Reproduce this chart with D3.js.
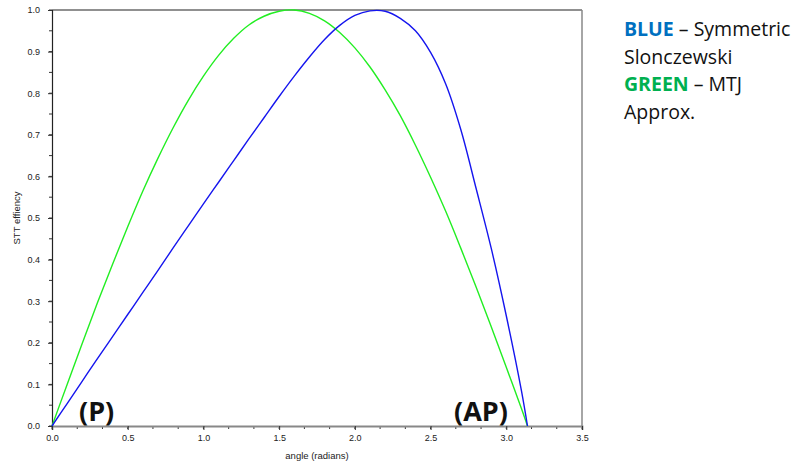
<!DOCTYPE html>
<html>
<head>
<meta charset="utf-8">
<script src="https://cdn.jsdelivr.net/npm/d3@7"></script>
<style>
  body { margin: 0; background: #fff; }
  svg { display: block; }
</style>
</head>
<body>
<div id="chart"></div>
<script>
// angle samples (radians)
var angles = [0, 0.1, 0.2, 0.3, 0.4, 0.5, 0.6, 0.7, 0.8, 0.9, 1.0, 1.1, 1.2, 1.3, 1.4, 1.5,
  1.6, 1.7, 1.8, 1.9, 2.0, 2.1, 2.2, 2.3, 2.4, 2.5, 2.6, 2.7, 2.8, 2.9, 3.0, 3.1, 3.14];

// blue: symmetric Slonczewski
var blueValues = [0, 0.054, 0.108, 0.162, 0.215, 0.268, 0.321, 0.374, 0.428, 0.481, 0.534,
  0.586, 0.638, 0.690, 0.741, 0.792, 0.841, 0.887, 0.929, 0.963, 0.987, 0.998, 0.997,
  0.980, 0.950, 0.898, 0.822, 0.712, 0.572, 0.428, 0.265, 0.085, 0];

// green: MTJ approx.
var greenValues = [0, 0.100, 0.199, 0.296, 0.389, 0.479, 0.565, 0.644, 0.717, 0.783, 0.841,
  0.891, 0.932, 0.964, 0.985, 0.997, 1.000, 0.992, 0.974, 0.946, 0.909, 0.863, 0.808,
  0.746, 0.675, 0.598, 0.516, 0.427, 0.335, 0.239, 0.141, 0.042, 0];

var xTicks = [0, 0.5, 1.0, 1.5, 2.0, 2.5, 3.0, 3.5];
var yTicks = [0, 0.1, 0.2, 0.3, 0.4, 0.5, 0.6, 0.7, 0.8, 0.9, 1.0];

var width = 805, height = 466;
var margin = { left: 52, top: 10, right: 223, bottom: 40 };

var svg = d3.select("#chart").append("svg")
  .attr("width", width)
  .attr("height", height);

var x = d3.scaleLinear().domain([0, 3.5]).range([margin.left, width - margin.right]);
var y = d3.scaleLinear().domain([0, 1]).range([height - margin.bottom, margin.top]);

// frame
svg.append("line").attr("x1", x(0)).attr("x2", x(3.5)).attr("y1", y(1)).attr("y2", y(1))
  .attr("stroke", "#222").attr("stroke-width", 1.2);
svg.append("line").attr("x1", x(3.5)).attr("x2", x(3.5)).attr("y1", y(1)).attr("y2", y(0))
  .attr("stroke", "#888").attr("stroke-width", 1.5);

// minor ticks
var xMinor = d3.range(0, 3.5 + 1e-9, 0.5 / 3);
var yMinor = d3.range(0, 1 + 1e-9, 0.05);

var xAxis = svg.append("g")
  .attr("transform", "translate(0," + y(0) + ")");
xAxis.selectAll(".minor").data(xMinor).enter().append("line")
  .attr("x1", function (d) { return x(d); })
  .attr("x2", function (d) { return x(d); })
  .attr("y1", 0).attr("y2", 3)
  .attr("stroke", "#333");
xAxis.call(d3.axisBottom(x).tickValues(xTicks).tickFormat(d3.format(".1f")).tickSize(4).tickPadding(5));
xAxis.select(".domain").attr("stroke", "#888").attr("stroke-width", 1.8);

var yAxis = svg.append("g")
  .attr("transform", "translate(" + x(0) + ",0)");
yAxis.selectAll(".minor").data(yMinor).enter().append("line")
  .attr("y1", function (d) { return y(d); })
  .attr("y2", function (d) { return y(d); })
  .attr("x1", 0).attr("x2", -3)
  .attr("stroke", "#333");
yAxis.call(d3.axisLeft(y).tickValues(yTicks).tickFormat(d3.format(".1f")).tickSize(4).tickPadding(8));
yAxis.select(".domain").attr("stroke", "#222").attr("stroke-width", 1.2);

svg.selectAll(".tick text")
  .attr("font-family", "Arial, 'Liberation Sans', sans-serif")
  .attr("font-size", 9)
  .attr("fill", "#222");
svg.selectAll(".tick line").attr("stroke", "#333");

// axis titles
svg.append("text")
  .attr("x", x(1.75)).attr("y", 459)
  .attr("text-anchor", "middle")
  .attr("font-family", "Arial, 'Liberation Sans', sans-serif")
  .attr("font-size", 9.5).attr("fill", "#222")
  .text("angle (radians)");

svg.append("text")
  .attr("transform", "translate(20," + y(0.5) + ") rotate(-90)")
  .attr("text-anchor", "middle")
  .attr("font-family", "Arial, 'Liberation Sans', sans-serif")
  .attr("font-size", 9.5).attr("fill", "#222")
  .text("STT effiency");

// curves
var line = d3.line()
  .x(function (d) { return x(d[0]); })
  .y(function (d) { return y(d[1]); })
  .curve(d3.curveCatmullRom);

svg.append("path")
  .datum(angles.map(function (a, i) { return [a, greenValues[i]]; }))
  .attr("d", line)
  .attr("fill", "none")
  .attr("stroke", "#22ee22")
  .attr("stroke-width", 1.4);

svg.append("path")
  .datum(angles.map(function (a, i) { return [a, blueValues[i]]; }))
  .attr("d", line)
  .attr("fill", "none")
  .attr("stroke", "#1515ee")
  .attr("stroke-width", 1.4);

// state labels
var bigFont = "'Open Sans', Lato, sans-serif";
svg.append("text").attr("x", 79).attr("y", 421)
  .attr("font-family", bigFont).attr("font-weight", "bold").attr("font-size", 27)
  .attr("fill", "#111").text("(P)");
svg.append("text").attr("x", 454).attr("y", 421)
  .attr("font-family", bigFont).attr("font-weight", "bold").attr("font-size", 27)
  .attr("fill", "#111").text("(AP)");

// legend text
var legend = svg.append("g")
  .attr("font-family", bigFont)
  .attr("font-size", 19.5)
  .attr("fill", "#111");

var l1 = legend.append("text").attr("x", 624).attr("y", 36);
l1.append("tspan").attr("font-weight", "bold").attr("fill", "#0070c0").text("BLUE");
l1.append("tspan").text(" \u2013 Symmetric");
legend.append("text").attr("x", 624).attr("y", 63.5).text("Slonczewski");
var l3 = legend.append("text").attr("x", 624).attr("y", 91);
l3.append("tspan").attr("font-weight", "bold").attr("fill", "#00b050").text("GREEN");
l3.append("tspan").text(" \u2013 MTJ");
legend.append("text").attr("x", 624).attr("y", 118.5).text("Approx.");
</script>
</body>
</html>
